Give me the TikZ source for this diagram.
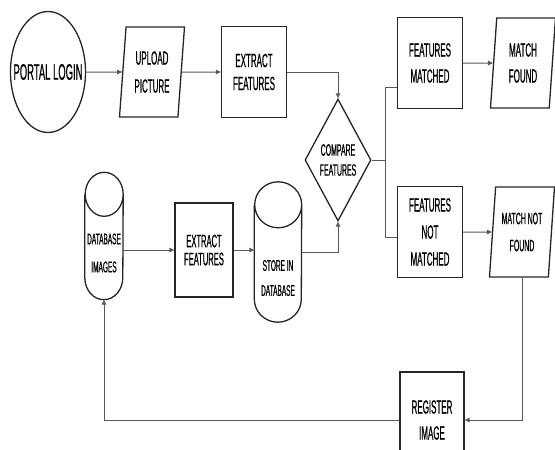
\documentclass[tikz,border=0pt]{standalone}
\usepackage{fontspec}
\setmainfont{Liberation Sans}[FakeStretch=0.42, FakeBold=0.6]
\usetikzlibrary{positioning,arrows.meta,shapes.geometric}
\newcommand{\fs}[2]{\fontsize{#1}{#2}\selectfont}
% cylinder outline round a node: name, half width, cap radius
\newcommand{\drawcyl}[3]{%
  \draw[box] ([yshift=-#3]#1.north west) -- ([yshift=#3]#1.south west)
    arc[start angle=180, end angle=360, x radius=#2, y radius=#3]
    -- ([yshift=-#3]#1.north east)
    arc[start angle=0, end angle=360, x radius=#2, y radius=#3];}

\begin{document}
\begin{tikzpicture}[x=1pt, y=-1pt,
  box/.style={draw=black!85, line width=1.3pt, align=center, inner sep=0pt},
  proc/.style={box, rectangle, minimum width=65pt, minimum height=91pt},
  io/.style={box, trapezium, trapezium left angle=81, trapezium right angle=99,
             trapezium stretches body, minimum width=65pt, minimum height=90pt},
  start/.style={box, ellipse, minimum width=75pt, minimum height=121pt},
  dec/.style={box, diamond, aspect=0.54, minimum width=66pt, minimum height=122pt},
  db/.style={rectangle, align=center, inner sep=0pt},
  txt/.style={align=center, inner sep=0pt},
  conn/.style={draw=black!65, line width=1pt},
  arr/.style={conn, -{Triangle[length=5pt, width=4.5pt]}}]

\useasboundingbox (0,0) rectangle (555,450);

\node[start, label={[txt, font=\fs{22.5}{24}]center:PORTAL LOGIN}] (login) at (48,72) {};
\node[io, font=\fs{19}{28}] (upload) at (152,72) {UPLOAD\\PICTURE};
\node[proc, font=\fs{19}{23}] (extract) at (254,72) {EXTRACT\\FEATURES};
\node[dec, label={[txt, font=\fs{16.5}{20}]center:COMPARE\\FEATURES}] (compare) at (338,160) {};
\node[proc, font=\fs{19}{26}] (fmatch) at (430,63) {FEATURES\\MATCHED};
\node[io, font=\fs{19}{26}] (mfound) at (523,63) {MATCH\\FOUND};
\node[proc, font=\fs{19}{27}] (fnot) at (430,232) {FEATURES\\NOT\\MATCHED};
\node[io, font=\fs{16.5}{27}] (mnot) at (522,232) {MATCH NOT\\FOUND};

\node[db, minimum width=38pt, minimum height=127pt,
      label={[txt, font=\fs{15.5}{28}, yshift=-17pt]center:DATABASE\\IMAGES}] (dbimg) at (104,236) {};
\drawcyl{dbimg}{19pt}{22pt}
\node[proc, minimum width=58pt, minimum height=94pt, font=\fs{18}{18}] (extract2) at (204,250) {EXTRACT\\FEATURES};
\node[db, minimum width=47pt, minimum height=140pt,
      label={[txt, font=\fs{15.5}{25}, yshift=-26pt]center:STORE IN\\DATABASE}] (store) at (278,252) {};
\drawcyl{store}{23.5pt}{23pt}
\node[proc, minimum width=64pt, minimum height=96pt, font=\fs{19}{26}] (register) at (432,420) {REGISTER\\IMAGE};

\coordinate (split) at (385,160);

\draw[arr] (login) -- (upload);
\draw[arr] (upload) -- (extract);
\draw[arr] (extract.east) -| (compare.north);
\draw[conn] (compare.east) -- (split);
\draw[conn] (split) |- ([yshift=-24pt]fmatch.west);
\draw[conn] (split) |- ([yshift=-5pt]fnot.west);
\draw[arr] (fmatch) -- (mfound);
\draw[arr] (fnot) -- (mnot);
\draw[arr] (mnot.south) |- (register.east);
\draw[arr] (register.west) -| (dbimg.south);
\draw[arr] (extract2.west -| dbimg.east) -- (extract2.west);
\draw[arr] (extract2.east) -- (extract2.east -| store.west);
\draw[arr] (store.east) -| (compare.south);
\end{tikzpicture}
\end{document}
